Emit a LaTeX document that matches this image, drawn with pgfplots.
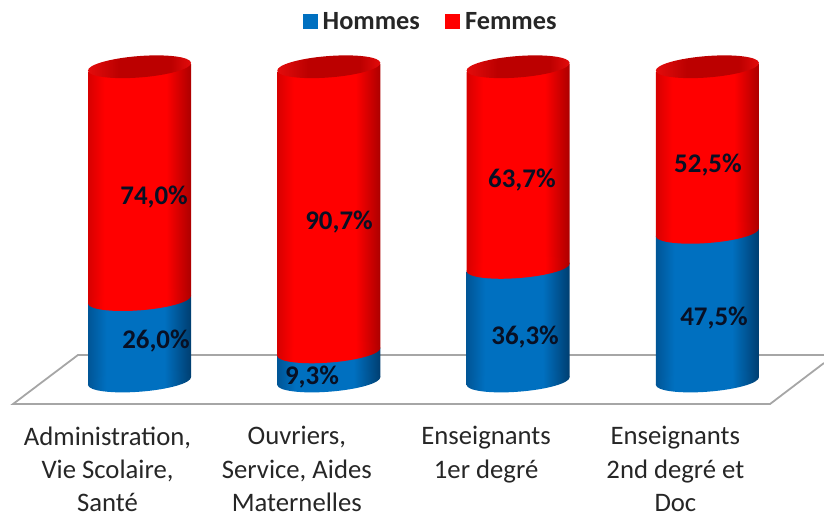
\documentclass[border=0pt]{standalone}
\usepackage{fontspec}
\setmainfont{Carlito}
\usepackage{pgfplots}
\usetikzlibrary{shapes.geometric}
\pgfplotsset{compat=1.18}
\definecolor{bluemid}{RGB}{0,112,192}
\definecolor{blueleft}{RGB}{0,85,150}
\definecolor{blueright}{RGB}{0,62,112}
\definecolor{redmid}{RGB}{255,0,0}
\definecolor{redleft}{RGB}{215,0,0}
\definecolor{redright}{RGB}{172,0,0}
\definecolor{capdark}{RGB}{188,0,0}
\definecolor{capedge}{RGB}{228,12,12}
\definecolor{labelink}{RGB}{8,16,36}
\pgfdeclarehorizontalshading{redcyl}{100bp}{color(0bp)=(redleft); color(25bp)=(redleft); color(33bp)=(redmid); color(63bp)=(redmid); color(75bp)=(redright); color(100bp)=(redright)}
\pgfdeclarehorizontalshading{bluecyl}{100bp}{color(0bp)=(blueleft); color(25bp)=(blueleft); color(34bp)=(bluemid); color(62bp)=(bluemid); color(75bp)=(blueright); color(100bp)=(blueright)}
\pgfdeclarehorizontalshading{capcyl}{100bp}{color(0bp)=(capedge); color(25bp)=(capedge); color(40bp)=(capdark); color(65bp)=(capdark); color(75bp)=(capedge); color(100bp)=(capedge)}
\pgfplotsset{
  bluebody/.style={forget plot,shade,shading=bluecyl,draw=none},
  redbody/.style={forget plot,shade,shading=redcyl,draw=none},
  cap/.style={forget plot,only marks,mark=none,nodes near coords={},
    every node near coord/.style={ellipse,shade,shading=#1,draw=none,inner sep=0pt,
      minimum width=103.4bp,minimum height=21.4bp,rotate=4.4,anchor=center}},
  valuelabels/.style={forget plot,only marks,mark=none,nodes near coords,point meta=explicit symbolic,
    every node near coord/.style={font=\fontsize{27}{30}\selectfont\bfseries,text=labelink,inner sep=0pt,anchor=center}},
}
\begin{document}
\begin{tikzpicture}
\begin{axis}[
  scale only axis,
  width=824bp,height=518bp,
  xmin=-0.737,xmax=3.616,
  ymin=-43.77,ymax=121.73,
  axis line style={draw=none},
  tick style={draw=none},
  ytick=\empty,
  xtick={0,1,2,3},
  xticklabels={{Administration,\\Vie Scolaire,\\Santé},{Ouvriers,\\Service, Aides\\Maternelles},{Enseignants\\1er degré},{Enseignants\\2nd degré et\\Doc}},
  xticklabel style={align=center,anchor=north,font=\fontsize{26.8}{33.5}\selectfont,text=black!85,yshift=95bp,xshift=-32bp},
  legend style={at={(0.5225,0.959)},anchor=center,draw=none,fill=none,legend columns=2,
    font=\fontsize{26.4}{28}\selectfont\bfseries,text=black!85,
    /tikz/every even column/.append style={column sep=23bp}},
  legend image code/.code={\fill[#1] (-7bp,-7bp) rectangle (7bp,7bp);\path[draw=none] (0,0) -- (11bp,0);},
]
\addlegendimage{bluemid}
\addlegendentry{Hommes}
\addlegendimage{red}
\addlegendentry{Femmes}

% platform
\addplot[draw=black!35,line width=1.8bp,forget plot] coordinates {(3.616,5.75)(3.331,-7.35)(-0.668,-7.35)(-0.325,8.31)(3.616,8.31)};

% Hommes
\addplot[cap=bluecyl] coordinates {(0,0)(1,0)(2,0)(3,0)};
\addplot[bluebody] coordinates {(-0.272,-1.28)(0.272,1.28)(0.272,27.28)(-0.272,24.72)} -- cycle;
\addplot[bluebody] coordinates {(0.728,-1.28)(1.272,1.28)(1.272,10.58)(0.728,8.02)} -- cycle;
\addplot[bluebody] coordinates {(1.728,-1.28)(2.272,1.28)(2.272,37.58)(1.728,35.02)} -- cycle;
\addplot[bluebody] coordinates {(2.728,-1.28)(3.272,1.28)(3.272,48.78)(2.728,46.22)} -- cycle;

% Femmes
\addplot[cap=redcyl] coordinates {(0,26.0)(1,9.3)(2,36.3)(3,47.5)};
\addplot[redbody] coordinates {(-0.272,24.72)(0.272,27.28)(0.272,101.28)(-0.272,98.72)} -- cycle;
\addplot[redbody] coordinates {(0.728,8.02)(1.272,10.58)(1.272,101.28)(0.728,98.72)} -- cycle;
\addplot[redbody] coordinates {(1.728,35.02)(2.272,37.58)(2.272,101.28)(1.728,98.72)} -- cycle;
\addplot[redbody] coordinates {(2.728,46.22)(3.272,48.78)(3.272,101.28)(2.728,98.72)} -- cycle;
\addplot[cap=capcyl] coordinates {(0,100.4)(1,100.4)(2,100.4)(3,100.4)};

% value labels
\addplot[valuelabels] coordinates {
  (0.087,12.8)[{26,0\%}]
  (0.911,1.28)[{9,3\%}]
  (2.037,14.1)[{36,3\%}]
  (3.035,20.1)[{47,5\%}]
  (0.077,58.8)[{74,0\%}]
  (1.054,50.8)[{90,7\%}]
  (2.02,64.2)[{63,7\%}]
  (3.003,69)[{52,5\%}]
};
\end{axis}
\end{tikzpicture}
\end{document}
